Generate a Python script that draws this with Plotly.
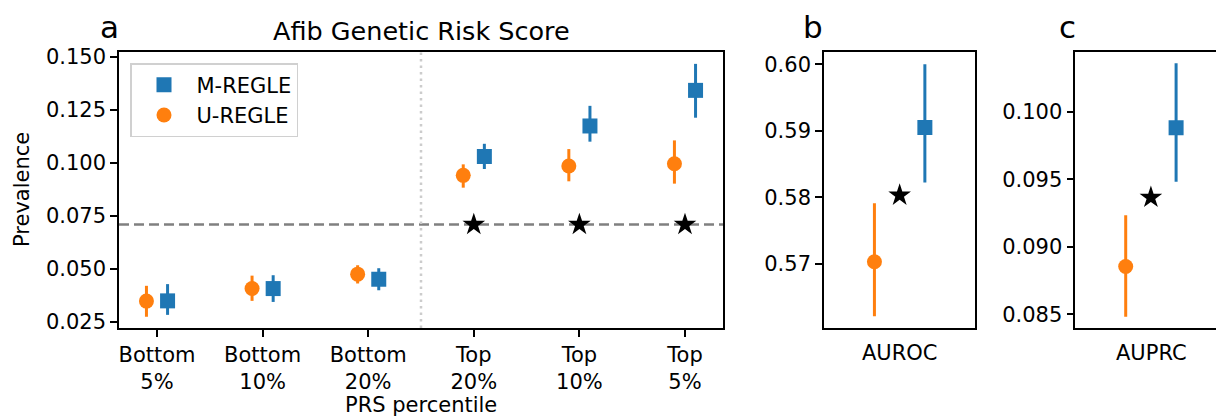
import plotly.graph_objects as go

# ---------------- data ----------------
categories = ["Bottom<br>5%", "Bottom<br>10%", "Bottom<br>20%", "Top<br>20%", "Top<br>10%", "Top<br>5%"]
u_mean = [0.0349, 0.0408, 0.0476, 0.0942, 0.0986, 0.0997]
u_lo = [0.0275, 0.0350, 0.0432, 0.0884, 0.0914, 0.0903]
u_hi = [0.0421, 0.0469, 0.0518, 0.0994, 0.1066, 0.1107]
m_mean = [0.0350, 0.0408, 0.0452, 0.1031, 0.1175, 0.1343]
m_lo = [0.0284, 0.0345, 0.0400, 0.0972, 0.1101, 0.1214]
m_hi = [0.0429, 0.0471, 0.0504, 0.1091, 0.1270, 0.1468]
baseline_prev = 0.0710
star_cats = [3, 4, 5]

auroc_u = 0.5703
auroc_u_lo, auroc_u_hi = 0.5621, 0.5791
auroc_m = 0.5905
auroc_m_lo, auroc_m_hi = 0.5822, 0.6000
auroc_base = 0.5803

auprc_u = 0.08854
auprc_u_lo, auprc_u_hi = 0.08482, 0.09235
auprc_m = 0.09884
auprc_m_lo, auprc_m_hi = 0.09482, 0.10361
auprc_base = 0.09366

yticks_a = [0.025, 0.050, 0.075, 0.100, 0.125, 0.150]
yticks_b = [0.57, 0.58, 0.59, 0.60]
yticks_c = [0.085, 0.090, 0.095, 0.100]

# ---------------- style ----------------
W, H = 1216, 417
BLUE = "#1f77b4"
ORANGE = "#ff7f0e"
FONT = "DejaVu Sans"
FS = 21
OFF = 0.1

def px_x(p):
    return p / W

def px_y(p):
    return 1 - p / H

fig = go.Figure()

idx = list(range(len(categories)))

def err(mean, lo, hi):
    return [h - m for m, h in zip(mean, hi)], [m - l for m, l in zip(mean, lo)]

m_up, m_dn = err(m_mean, m_lo, m_hi)
u_up, u_dn = err(u_mean, u_lo, u_hi)

fig.add_trace(go.Scatter(
    x=[i + OFF for i in idx], y=m_mean, mode="markers", name="M-REGLE",
    marker=dict(symbol="square", size=15, color=BLUE),
    error_y=dict(type="data", symmetric=False, array=m_up, arrayminus=m_dn,
                 thickness=3, width=0, color=BLUE),
    xaxis="x", yaxis="y"))
fig.add_trace(go.Scatter(
    x=[i - OFF for i in idx], y=u_mean, mode="markers", name="U-REGLE",
    marker=dict(symbol="circle", size=15, color=ORANGE),
    error_y=dict(type="data", symmetric=False, array=u_up, arrayminus=u_dn,
                 thickness=3, width=0, color=ORANGE),
    xaxis="x", yaxis="y"))
fig.add_trace(go.Scatter(
    x=star_cats, y=[baseline_prev] * len(star_cats), mode="markers", showlegend=False,
    marker=dict(symbol="star", size=17, color="black"), xaxis="x", yaxis="y"))

# panel b
fig.add_trace(go.Scatter(
    x=[-OFF], y=[auroc_u], mode="markers", showlegend=False,
    marker=dict(symbol="circle", size=15, color=ORANGE),
    error_y=dict(type="data", symmetric=False, array=[auroc_u_hi - auroc_u],
                 arrayminus=[auroc_u - auroc_u_lo], thickness=3, width=0, color=ORANGE),
    xaxis="x2", yaxis="y2"))
fig.add_trace(go.Scatter(
    x=[OFF], y=[auroc_m], mode="markers", showlegend=False,
    marker=dict(symbol="square", size=15, color=BLUE),
    error_y=dict(type="data", symmetric=False, array=[auroc_m_hi - auroc_m],
                 arrayminus=[auroc_m - auroc_m_lo], thickness=3, width=0, color=BLUE),
    xaxis="x2", yaxis="y2"))
fig.add_trace(go.Scatter(
    x=[0], y=[auroc_base], mode="markers", showlegend=False,
    marker=dict(symbol="star", size=17, color="black"), xaxis="x2", yaxis="y2"))

# panel c
fig.add_trace(go.Scatter(
    x=[-OFF], y=[auprc_u], mode="markers", showlegend=False,
    marker=dict(symbol="circle", size=15, color=ORANGE),
    error_y=dict(type="data", symmetric=False, array=[auprc_u_hi - auprc_u],
                 arrayminus=[auprc_u - auprc_u_lo], thickness=3, width=0, color=ORANGE),
    xaxis="x3", yaxis="y3"))
fig.add_trace(go.Scatter(
    x=[OFF], y=[auprc_m], mode="markers", showlegend=False,
    marker=dict(symbol="square", size=15, color=BLUE),
    error_y=dict(type="data", symmetric=False, array=[auprc_m_hi - auprc_m],
                 arrayminus=[auprc_m - auprc_m_lo], thickness=3, width=0, color=BLUE),
    xaxis="x3", yaxis="y3"))
fig.add_trace(go.Scatter(
    x=[0], y=[auprc_base], mode="markers", showlegend=False,
    marker=dict(symbol="star", size=17, color="black"), xaxis="x3", yaxis="y3"))

ydom = [px_y(328), px_y(52)]
axis_common = dict(showline=True, linecolor="black", linewidth=1.6, showgrid=False,
                   zeroline=False, automargin=False,
                   tickfont=dict(family=FONT, size=FS, color="black"),
                   tickcolor="black", tickwidth=1.6, ticklen=7)

fig.update_layout(
    width=W, height=H,
    margin=dict(l=0, r=0, t=0, b=0, autoexpand=False),
    plot_bgcolor="white", paper_bgcolor="white",
    font=dict(family=FONT, size=FS, color="black"),
    xaxis=dict(domain=[px_x(119), px_x(723)], range=[-0.36, 5.36],
               tickmode="array", tickvals=idx, ticktext=categories,
               ticks="outside", mirror=True, anchor="y", **axis_common),
    yaxis=dict(domain=ydom, range=[0.0222, 0.1524], tickmode="array",
               tickvals=yticks_a, tickformat=".3f", ticks="outside", mirror=True,
               anchor="x", **axis_common),
    xaxis2=dict(domain=[px_x(824), px_x(975.3)], range=[-0.3, 0.3],
                showticklabels=False, ticks="", mirror=True, anchor="y2", **axis_common),
    yaxis2=dict(domain=ydom, range=[0.56033, 0.60185], tickmode="array",
                tickvals=yticks_b, tickformat=".2f", ticks="outside", mirror=True,
                anchor="x2", **axis_common),
    xaxis3=dict(domain=[px_x(1075.3), 1.0], range=[-0.3, -0.3 + (W - 1075.3) / 252.0],
                showticklabels=False, ticks="", mirror=True, anchor="y3", **axis_common),
    yaxis3=dict(domain=ydom, range=[0.08398, 0.10445], tickmode="array",
                tickvals=yticks_c, tickformat=".3f", ticks="outside", mirror=False,
                anchor="x3", **axis_common),
    legend=dict(x=px_x(130), y=px_y(63), xanchor="left", yanchor="top",
                bordercolor="#d0d0d0", borderwidth=1.5, bgcolor="rgba(255,255,255,0.8)",
                font=dict(family=FONT, size=FS, color="black"),
                itemwidth=55, tracegroupgap=0),
    showlegend=True,
)

# reference lines
fig.add_shape(type="line", xref="x domain", yref="y", x0=0, x1=1,
              y0=baseline_prev, y1=baseline_prev,
              line=dict(color="gray", width=2.5, dash="10px,5px"), layer="below")
fig.add_shape(type="line", xref="x", yref="y domain", x0=2.5, x1=2.5, y0=0, y1=1,
              line=dict(color="#cccccc", width=2.5, dash="2.5px,4px"), layer="below")

annots = [
    dict(text="Afib Genetic Risk Score", x=px_x(421), y=px_y(31), font=dict(size=25.5)),
    dict(text="a", x=px_x(109), y=px_y(27), font=dict(size=31)),
    dict(text="b", x=px_x(813), y=px_y(27), font=dict(size=31)),
    dict(text="c", x=px_x(1067), y=px_y(27), font=dict(size=31)),
    dict(text="AUROC", x=px_x(900), y=px_y(353), font=dict(size=FS)),
    dict(text="AUPRC", x=px_x(1151), y=px_y(353), font=dict(size=FS)),
    dict(text="PRS percentile", x=px_x(421), y=px_y(405), font=dict(size=FS)),
    dict(text="Prevalence", x=px_x(22), y=px_y(190), font=dict(size=FS), textangle=-90),
]
for a in annots:
    a.update(xref="paper", yref="paper", xanchor="center", yanchor="middle",
             showarrow=False)
    a["font"].update(family=FONT, color="black")
    fig.add_annotation(**a)

fig.write_html("out.html", config={"displayModeBar": False},
               post_script="document.body.style.margin='0';document.body.style.overflow='hidden';")
